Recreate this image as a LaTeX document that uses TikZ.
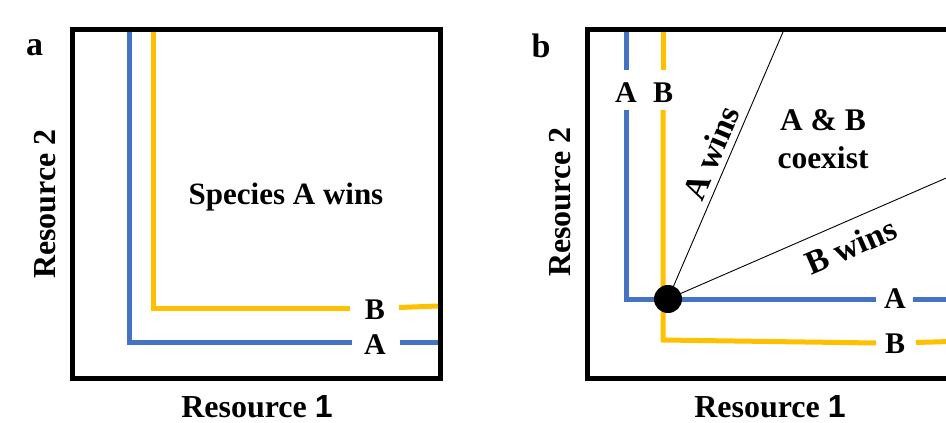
\documentclass[tikz,border=0pt]{standalone}
\usepackage{fontspec}
\setmainfont{Liberation Serif}
\newfontfamily\numfont{Liberation Sans}
\begin{document}
\begin{tikzpicture}[x=1pt,y=-1pt,
  frame/.style={line width=5pt},
  curveA/.style={line width=5pt,draw={rgb,255:red,68;green,114;blue,196}},
  curveB/.style={line width=5pt,draw={rgb,255:red,255;green,192;blue,0}},
  ray/.style={line width=0.9pt},
  lbl/.style={font=\bfseries\fontsize{30}{30}\selectfont,inner sep=0pt},
  raylbl/.style={font=\bfseries\fontsize{33.5}{33.5}\selectfont,inner sep=0pt},
  axis/.style={font=\bfseries\fontsize{32}{32}\selectfont,inner sep=0pt},
  tag/.style={font=\bfseries\fontsize{34}{34}\selectfont,inner sep=0pt}]
\useasboundingbox (0,0) rectangle (946,423);

% ---------- panel a ----------
\draw[frame] (72.5,29.5) rectangle (440.5,378);
\node[tag] (ta) at (34.5,48) {a};
\node[axis,rotate=90] (ya) at (45,204) {Resource 2};
\node[axis] (xa) at (257,407) {Resource \numfont 1};
\node[lbl,font=\bfseries\fontsize{31}{31}\selectfont] (wa) at (286,197) {Species A wins};

\node[lbl] (aA) at (375,345) {A};
\node[lbl] (aB) at (375,310) {B};
\coordinate (aAtop) at (129,32);
\coordinate (aAend) at (438,342);
\coordinate (aBtop) at (153,32);
\coordinate (aBend) at (438,306);
\draw[curveA] (aAtop) |- (352,342);
\draw[curveA] (400,342) -- (aAend);
\draw[curveB] (aBtop) |- (350,308);
\draw[curveB] (399,307.5) -- (aBend);

% ---------- panel b ----------
\draw[frame] (587.5,29.5) rectangle (980,378);
\node[tag] (tb) at (541,46) {b};
\node[axis,rotate=90] (yb) at (560,202) {Resource 2};
\node[axis] (xb) at (770,407) {Resource \numfont 1};

% zero-growth isoclines
\node[lbl] (bAv) at (626,93) {A};
\node[lbl] (bBv) at (663,93) {B};
\node[lbl] (bAh) at (895,299) {A};
\node[lbl] (bBh) at (895,344) {B};
\draw[curveA] (626,32) -- (626,70);
\draw[curveA] (626,110) |- (876,299);
\draw[curveA] (913,299) -- (950,299);
\draw[curveB] (663,32) -- (663,70);
\draw[curveB] (663,110) -- (663,340) -- (876,343);
\draw[curveB] (916,342.5) -- (950,341.5);

% equilibrium point and its supply-vector rays
\node[circle,fill=black,minimum size=28pt,inner sep=0pt] (eq) at (668,299) {};
\coordinate (rayA) at (783,32);
\coordinate (rayB) at (960,172);
\draw[ray] (eq.center) -- (rayA);
\draw[ray] (eq.center) -- (rayB);

\node[raylbl,rotate=67] (wA) at (711,153) {A wins};
\node[raylbl,rotate=23.5] (wB) at (851,246) {B wins};
\node[lbl,align=center,font=\bfseries\fontsize{31.5}{38}\selectfont] (co) at (823,139) {A \& B\\coexist};
\end{tikzpicture}
\end{document}
